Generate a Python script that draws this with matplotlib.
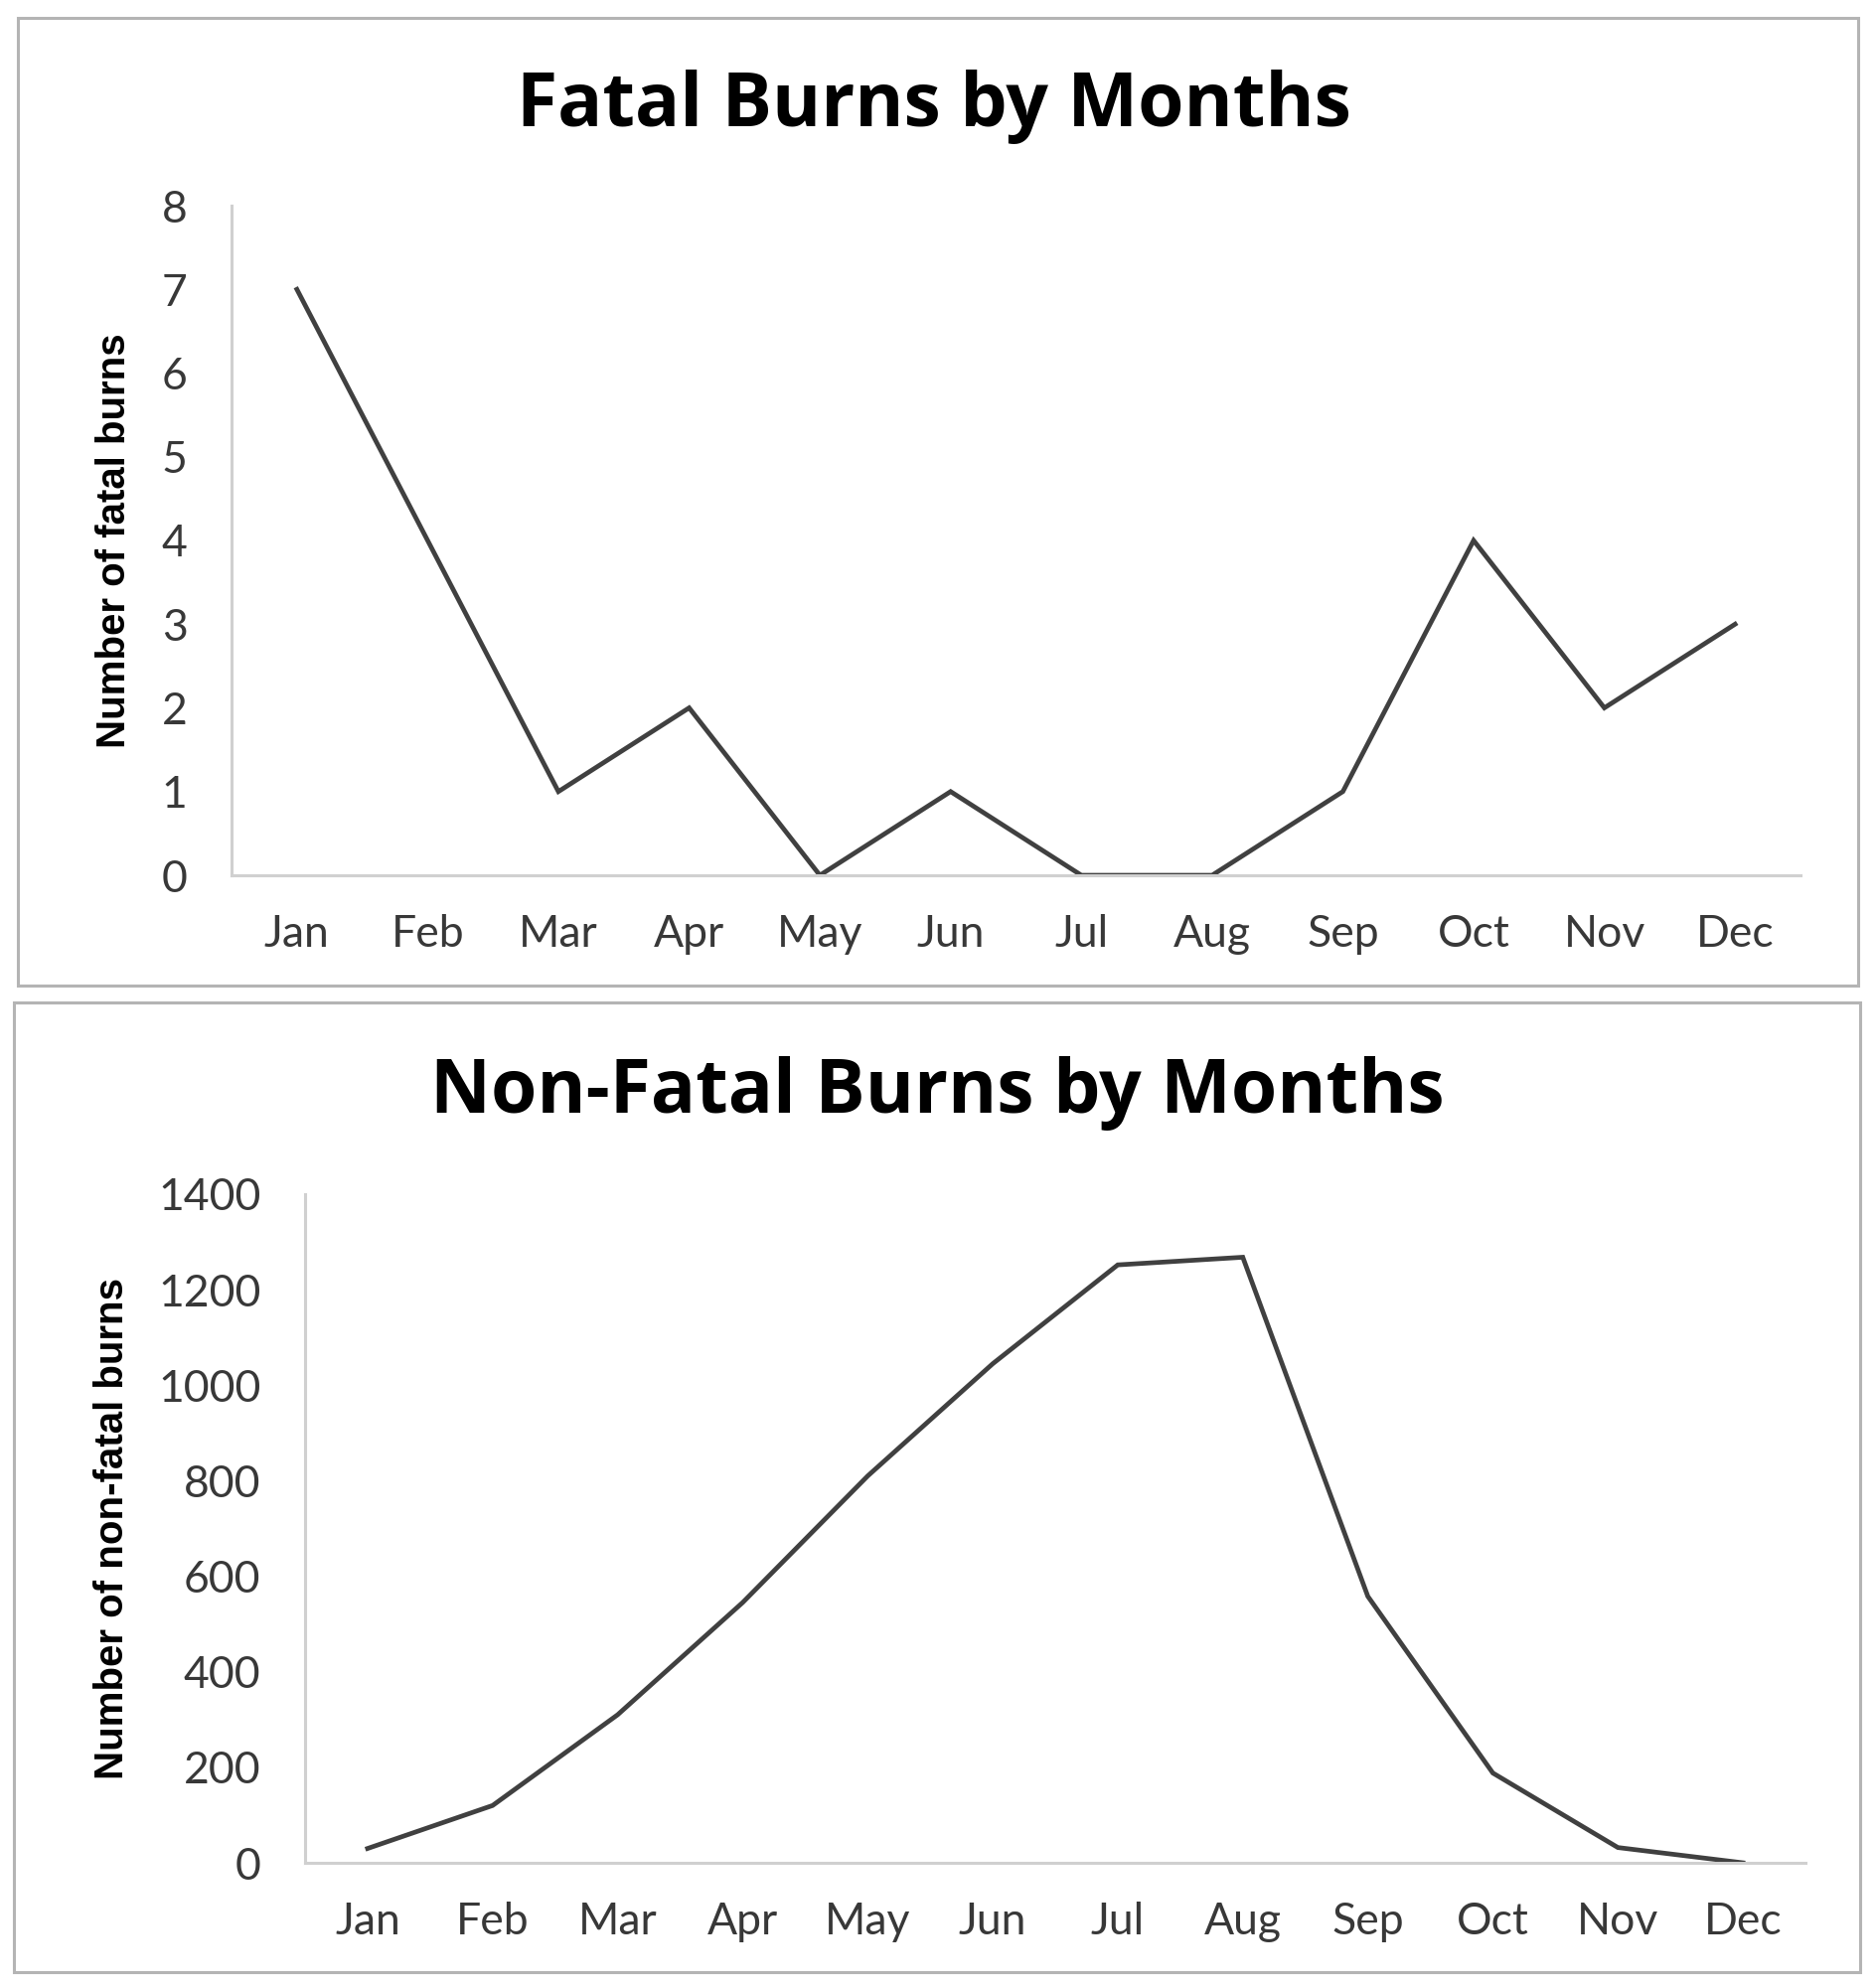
import matplotlib
matplotlib.use("Agg")
import matplotlib.pyplot as plt
from matplotlib.patches import Rectangle

months = ["Jan", "Feb", "Mar", "Apr", "May", "Jun", "Jul", "Aug", "Sep", "Oct", "Nov", "Dec"]
fatal = [7, 4, 1, 2, 0, 1, 0, 0, 1, 4, 2, 3]
nonfatal = [30, 120, 310, 545, 810, 1045, 1252, 1268, 558, 188, 32, 0]

W, H = 1887, 2001
fig = plt.figure(figsize=(W / 100, H / 100), dpi=100)
fig.patch.set_facecolor("white")

def frac_box(x0, y0, x1, y1):
    return [x0 / W, 1 - y1 / H, (x1 - x0) / W, (y1 - y0) / H]

# panel borders
for (x0, y0, x1, y1) in [(18, 18, 1870, 992), (14, 1009, 1872, 1985)]:
    fig.patches.append(Rectangle((x0 / W, 1 - y1 / H), (x1 - x0) / W, (y1 - y0) / H,
                                 transform=fig.transFigure, fill=False,
                                 edgecolor="#b4b4b4", linewidth=2.2))

tick_font = "Lato"
line_color = "#404040"

def style(ax, ylim, yticks, ylabel):
    ax.set_xlim(-0.5, 11.5)
    ax.set_ylim(*ylim)
    ax.set_yticks(yticks)
    ax.set_xticks(range(12))
    ax.set_xticklabels(months)
    for s in ["top", "right"]:
        ax.spines[s].set_visible(False)
    for s in ["left", "bottom"]:
        ax.spines[s].set_color("#d0d0d0")
        ax.spines[s].set_linewidth(2.2)
    ax.tick_params(axis="both", length=0, labelsize=32, colors="#383838")
    ax.tick_params(axis="x", pad=28)
    ax.tick_params(axis="y", pad=32)
    for lab in ax.get_xticklabels() + ax.get_yticklabels():
        lab.set_fontfamily(tick_font)
    ax.set_ylabel(ylabel, fontsize=29, fontweight="bold", family="Liberation Sans", color="black")

ax1 = fig.add_axes(frac_box(233, 207, 1812, 881))
ax1.plot(range(12), fatal, color=line_color, linewidth=3.4, solid_joinstyle="miter")
style(ax1, (0, 8), range(0, 9), "Number of fatal burns")
ax1.yaxis.set_label_coords(-0.063, 0.5)
fig.text(0.498, 0.9465, "Fatal Burns by Months", ha="center", va="center",
         fontsize=54, fontweight="bold", family="Open Sans", color="black")

ax2 = fig.add_axes(frac_box(307, 1202, 1817, 1875))
ax2.plot(range(12), nonfatal, color=line_color, linewidth=3.4, solid_joinstyle="miter")
style(ax2, (0, 1400), range(0, 1401, 200), "Number of non-fatal burns")
ax2.yaxis.set_label_coords(-0.116, 0.5)
fig.text(0.5, 0.450, "Non-Fatal Burns by Months", ha="center", va="center",
         fontsize=54, fontweight="bold", family="Open Sans", color="black")

fig.savefig("out.png", dpi=100)
